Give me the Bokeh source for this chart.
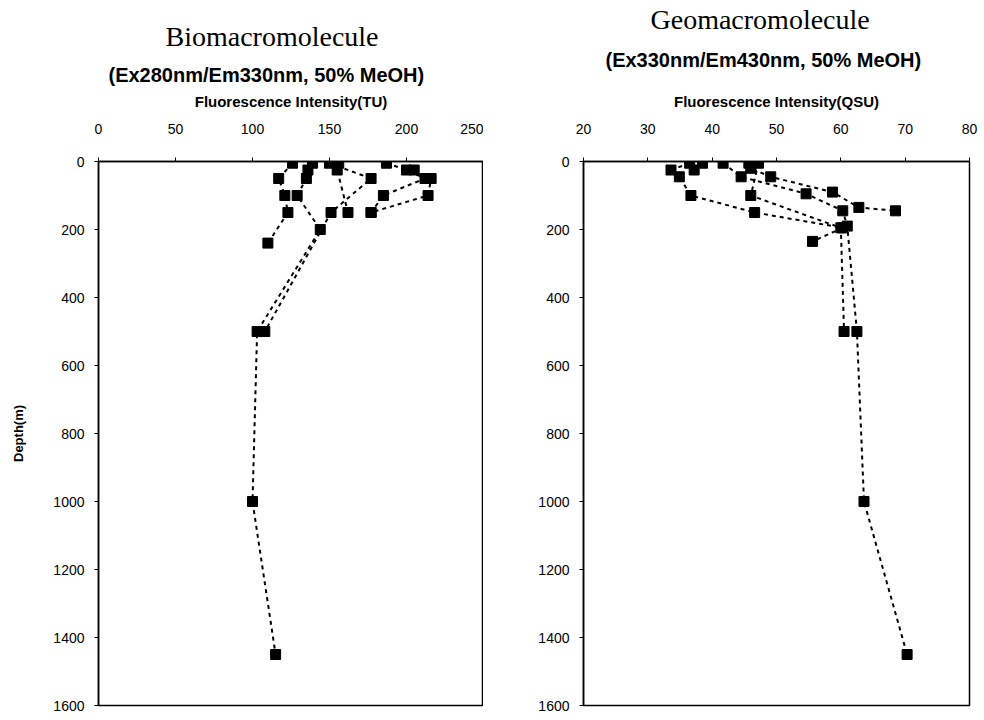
from bokeh.plotting import figure
from bokeh.models import Range1d, Title, FixedTicker
from bokeh.layouts import row
from bokeh.embed import file_html
from bokeh.resources import INLINE

# ---------------- data ----------------
# Biomacromolecule (TU) profiles: depth (m) and intensity
bio_depths = [
    [5, 50, 100, 150, 240],
    [5, 25, 50, 100, 200, 500, 1000, 1450],
    [5, 50, 150, 500],
    [5, 25, 150],
    [5, 25, 50, 100, 150],
    [25, 50, 100, 150],
]
bio_values = [
    [126, 117, 121, 123, 110],
    [139, 136, 135, 129, 144, 103, 100, 115],
    [150, 177, 151, 108],
    [156, 155, 162],
    [187, 200, 212, 185, 177],
    [205, 216, 214, 177],
]
bio_xticks = [0, 50, 100, 150, 200, 250]

# Geomacromolecule (QSU) profiles
geo_depths = [
    [5, 25, 45, 100, 150, 195, 235],
    [5, 45, 95, 145, 190, 500, 1000, 1450],
    [5, 20, 45, 90, 135, 145],
    [5, 100, 195, 500],
    [5, 25],
]
geo_values = [
    [36.5, 33.6, 34.9, 36.7, 46.6, 60.3, 55.6],
    [41.7, 44.5, 54.6, 60.3, 61.0, 62.5, 63.6, 70.3],
    [45.7, 46.0, 49.1, 58.7, 62.8, 68.5],
    [47.2, 46.0, 60.0, 60.5],
    [38.5, 37.2],
]
geo_xticks = [20, 30, 40, 50, 60, 70, 80]

depth_ticks = [0, 200, 400, 600, 800, 1000, 1200, 1400, 1600]

SANS = "Liberation Sans"
SERIF = "Liberation Serif"


def panel(depths, values, xr, xticks, xlabel, title, subtitle, width,
          border_left, border_right, ylabel, sub_standoff, title_standoff,
          sub_offset, title_offset):
    p = figure(width=width, height=720, x_range=Range1d(*xr),
               y_range=Range1d(1600, 0), x_axis_location="above",
               output_backend="svg", toolbar_location=None,
               min_border_left=border_left, min_border_right=border_right,
               min_border_top=161, min_border_bottom=15)
    p.background_fill_color = "white"
    p.border_fill_color = "white"
    p.outline_line_color = "black"
    p.outline_line_width = 1.5
    p.xgrid.visible = False
    p.ygrid.visible = False

    for d, v in zip(depths, values):
        p.line(v, d, line_color="black", line_width=2, line_dash="4 4")
    for d, v in zip(depths, values):
        p.scatter(v, d, marker="square", size=10, fill_color="black",
                  line_color="black")

    xa = p.xaxis[0]
    xa.ticker = FixedTicker(ticks=xticks)
    xa.axis_label = xlabel
    xa.axis_label_text_font = SANS
    xa.axis_label_text_font_style = "bold"
    xa.axis_label_text_font_size = "15px"
    xa.axis_label_text_color = "black"
    xa.axis_label_standoff = 11
    xa.major_label_text_font = SANS
    xa.major_label_text_font_size = "14px"
    xa.major_label_text_color = "black"
    xa.major_label_standoff = 24
    xa.major_tick_out = 4
    xa.major_tick_in = 0
    xa.minor_tick_out = 0
    xa.minor_tick_in = 0
    xa.axis_line_color = "black"
    xa.axis_line_width = 1.5
    xa.major_tick_line_color = "black"

    ya = p.yaxis[0]
    ya.ticker = FixedTicker(ticks=depth_ticks)
    if ylabel:
        ya.axis_label = ylabel
        ya.axis_label_text_font = SANS
        ya.axis_label_text_font_style = "bold"
        ya.axis_label_text_font_size = "13px"
        ya.axis_label_text_color = "black"
        ya.axis_label_standoff = 24
    ya.major_label_text_font = SANS
    ya.major_label_text_font_size = "14px"
    ya.major_label_text_color = "black"
    ya.major_label_standoff = 10
    ya.major_tick_out = 4
    ya.major_tick_in = 0
    ya.minor_tick_out = 0
    ya.minor_tick_in = 0
    ya.axis_line_color = "black"
    ya.axis_line_width = 1.5
    ya.major_tick_line_color = "black"

    p.add_layout(Title(text=subtitle, align="left", text_font=SANS,
                       text_font_style="bold", text_font_size="20px",
                       text_color="black",
                       standoff=sub_standoff, offset=sub_offset), "above")
    p.add_layout(Title(text=title, align="left", text_font=SERIF,
                       text_font_style="normal", text_font_size="28px",
                       text_color="black",
                       standoff=title_standoff, offset=title_offset), "above")
    return p


left = panel(bio_depths, bio_values, (0, 250), bio_xticks,
             "Fluorescence Intensity(TU)", "Biomacromolecule",
             "(Ex280nm/Em330nm, 50% MeOH)", 483, 98, 0, "Depth(m)",
             8, 12, 10, 67)
right = panel(geo_depths, geo_values, (20, 80), geo_xticks,
              "Fluorescence Intensity(QSU)", "Geomacromolecule",
              "(Ex330nm/Em430nm, 50% MeOH)", 501, 100, 15, None,
              37, -12, 22, 67)

layout = row(left, right)
open("out.html", "w").write(file_html(layout, INLINE))
